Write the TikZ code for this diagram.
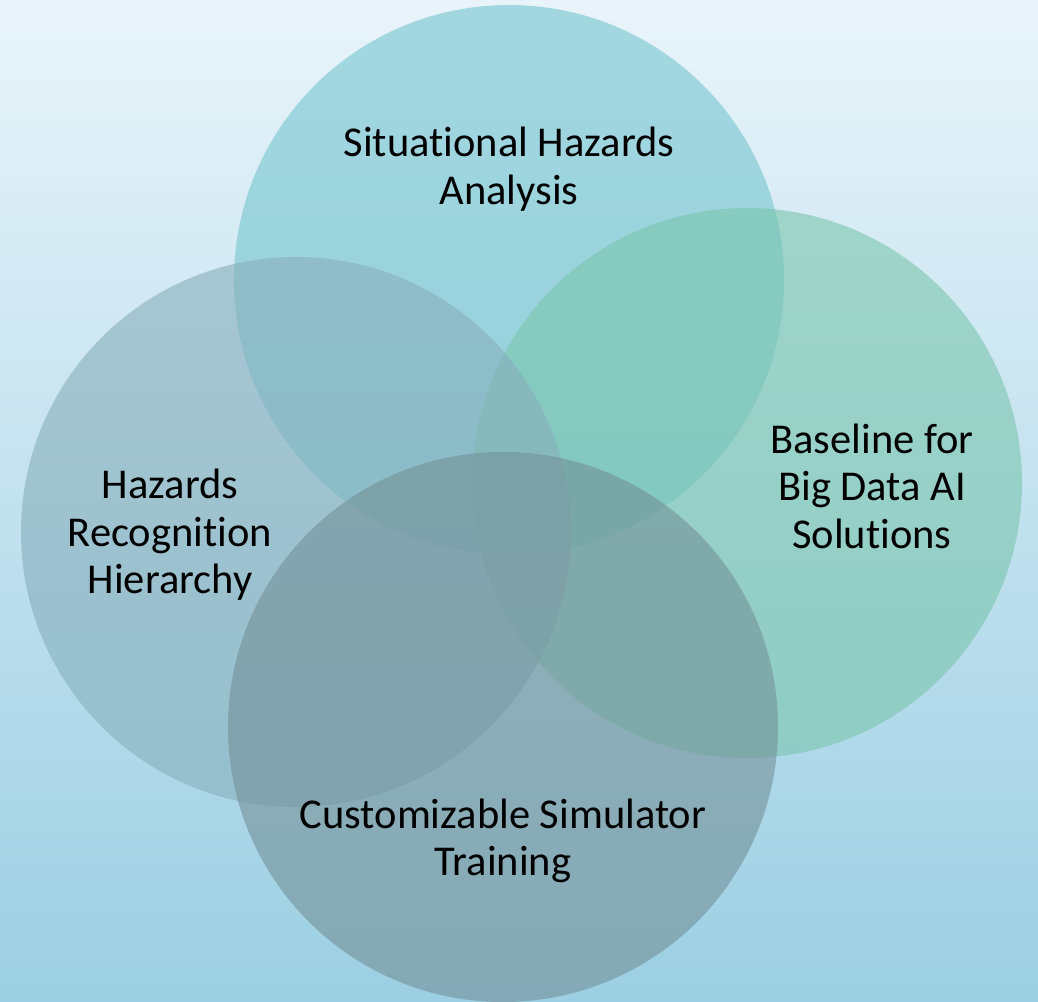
\documentclass[tikz,border=0pt]{standalone}
\usepackage{fontspec}
\setmainfont{Carlito}[Ligatures={NoCommon}]
\begin{document}
\begin{tikzpicture}[x=1pt,y=-1pt,
  bubble/.style={opacity=0.6},
  lbl/.style={align=center,text=black,font=\fontsize{42.5}{47.5}\selectfont}]
\definecolor{bgtop}{RGB}{233,244,250}
\definecolor{bgbot}{RGB}{156,207,227}
\definecolor{ctop}{RGB}{117,197,207}
\definecolor{cright}{RGB}{122,197,173}
\definecolor{cleft}{RGB}{135,175,187}
\definecolor{cbot}{RGB}{115,145,152}
% background
\shade[top color=bgtop,bottom color=bgbot] (0,0) rectangle (1038,1001);
\useasboundingbox (0,0) rectangle (1038,1001);
% overlapping circles
\fill[bubble,ctop]   (509,280) circle[radius=275];
\fill[bubble,cright] (747,483) circle[radius=275];
\fill[bubble,cleft]  (296,532) circle[radius=275];
\fill[bubble,cbot]   (503,727) circle[radius=275];
% labels
\node[lbl] (sha) at (509,169) {Situational Hazards\\Analysis};
\node[lbl] (bdai) at (872,486) {Baseline for\\Big Data AI\\Solutions};
\node[lbl] (hrh) at (170,535) {Hazards\\Recognition\\Hierarchy};
\node[lbl] (cst) at (503,841) {Customizable Simulator\\Training};
\end{tikzpicture}
\end{document}
